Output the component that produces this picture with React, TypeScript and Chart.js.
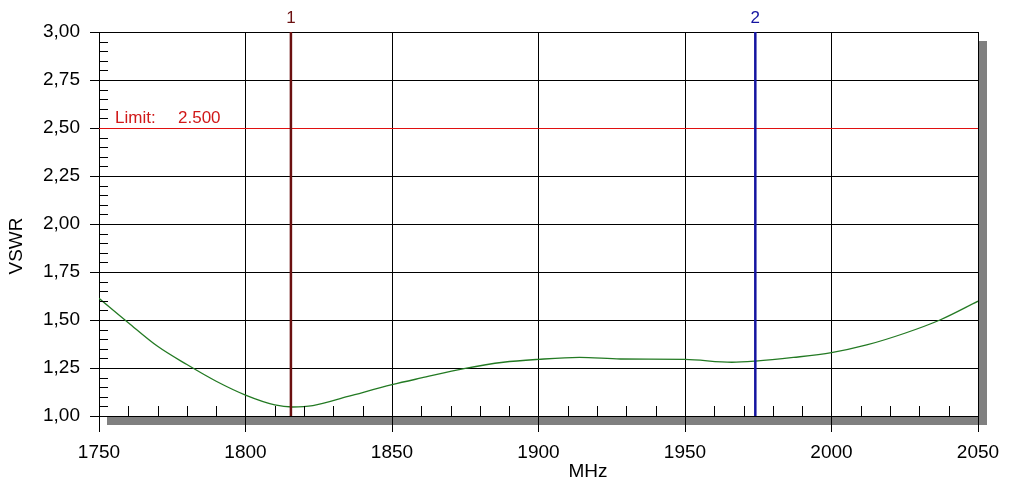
import React, { useEffect, useRef } from "react";
import { Chart, registerables } from "chart.js";

Chart.register(...registerables);

// Measured VSWR trace
const freqMHz = [1750, 1760, 1770, 1780, 1790, 1800, 1810, 1816, 1823, 1835, 1850, 1860, 1875, 1888, 1900, 1914, 1928, 1950, 1966, 1974, 1987, 2000, 2012, 2025, 2037, 2050];
const vswr = [1.613, 1.486, 1.363, 1.268, 1.181, 1.109, 1.058, 1.047, 1.054, 1.102, 1.163, 1.198, 1.248, 1.28, 1.295, 1.305, 1.297, 1.295, 1.28, 1.286, 1.305, 1.33, 1.37, 1.431, 1.5, 1.598];

// Limit line
const limitValue = 2.5;

// Markers
const markerLabels = ["1", "2"];
const markerFreqs = [1815.5, 1974];
const markerColors = ["#6b1010", "#1414a0"];

// Axis ranges / ticks
const xMin = 1750;
const xMax = 2050;
const xMajorStep = 50;
const xMinorStep = 10;
const yMin = 1;
const yMax = 3;
const yMajorStep = 0.25;
const yMinorStep = 0.05;

const xTitle = "MHz";
const yTitle = "VSWR";

const FONT = 'Arial, "Liberation Sans", sans-serif';

const decorPlugin = {
  id: "decor",
  beforeDraw(chart: any) {
    const { ctx, chartArea } = chart;
    const { left, right, top, bottom } = chartArea;
    ctx.save();
    ctx.fillStyle = "#808080";
    ctx.fillRect(left + 8, bottom + 1, right - left, 8);
    ctx.fillRect(right + 1, top + 9, 8, bottom - top);
    ctx.restore();
  },
  beforeDatasetsDraw(chart: any) {
    const { ctx, chartArea, scales } = chart;
    const { left, right } = chartArea;
    const ly = Math.round(scales.y.getPixelForValue(limitValue)) + 0.5;
    ctx.save();
    ctx.strokeStyle = "#e01010";
    ctx.lineWidth = 1;
    ctx.beginPath();
    ctx.moveTo(left, ly);
    ctx.lineTo(right, ly);
    ctx.stroke();
    ctx.restore();
  },
  afterDraw(chart: any) {
    const { ctx, chartArea, scales } = chart;
    const { left, top, bottom } = chartArea;
    const xs = scales.x;
    const ys = scales.y;
    ctx.save();
    // minor ticks
    ctx.strokeStyle = "#000";
    ctx.lineWidth = 1;
    ctx.beginPath();
    const nY = Math.round((yMax - yMin) / yMinorStep);
    const perY = Math.round(yMajorStep / yMinorStep);
    for (let i = 1; i < nY; i++) {
      if (i % perY === 0) continue;
      const py = Math.round(ys.getPixelForValue(yMin + i * yMinorStep)) + 0.5;
      ctx.moveTo(left, py);
      ctx.lineTo(left + 9, py);
    }
    const nX = Math.round((xMax - xMin) / xMinorStep);
    const perX = Math.round(xMajorStep / xMinorStep);
    for (let i = 1; i < nX; i++) {
      if (i % perX === 0) continue;
      const px = Math.round(xs.getPixelForValue(xMin + i * xMinorStep)) + 0.5;
      ctx.moveTo(px, bottom);
      ctx.lineTo(px, bottom - 10);
    }
    ctx.stroke();

    // limit label
    const ly = ys.getPixelForValue(limitValue);
    ctx.fillStyle = "#d01818";
    ctx.font = `17px ${FONT}`;
    ctx.textAlign = "left";
    ctx.textBaseline = "alphabetic";
    ctx.fillText("Limit:", left + 16, ly - 5);
    ctx.fillText(limitValue.toFixed(3), left + 79, ly - 5);

    // marker labels
    ctx.textAlign = "center";
    markerLabels.forEach((lab, i) => {
      ctx.fillStyle = markerColors[i];
      ctx.fillText(lab, xs.getPixelForValue(markerFreqs[i]), top - 9);
    });

    // axis titles
    ctx.fillStyle = "#000";
    ctx.font = `19px ${FONT}`;
    ctx.textAlign = "center";
    ctx.textBaseline = "middle";
    ctx.fillText(xTitle, 588, 472);
    ctx.translate(17, 246);
    ctx.rotate(-Math.PI / 2);
    ctx.fillText(yTitle, 0, 0);
    ctx.restore();
  },
};

export default function App() {
  const ref = useRef<HTMLCanvasElement | null>(null);
  useEffect(() => {
    if (!ref.current) return;
    const datasets: any[] = [
      {
        label: "VSWR",
        data: freqMHz.map((f, i) => ({ x: f, y: vswr[i] })),
        borderColor: "#237a23",
        borderWidth: 1.3,
        pointRadius: 0,
        cubicInterpolationMode: "monotone",
        fill: false,
        order: 2,
      },
      ...markerFreqs.map((f, i) => ({
        label: "M" + markerLabels[i],
        data: [
          { x: f, y: yMin },
          { x: f, y: yMax },
        ],
        borderColor: markerColors[i],
        borderWidth: 2.5,
        pointRadius: 0,
        fill: false,
        order: 1,
      })),
    ];
    const chart = new Chart(ref.current, {
      type: "line",
      data: { datasets },
      options: {
        responsive: false,
        animation: false,
        layout: { padding: { left: 0, top: 32, right: 42, bottom: 0 } },
        plugins: { legend: { display: false }, tooltip: { enabled: false }, title: { display: false } },
        scales: {
          x: {
            type: "linear",
            min: xMin,
            max: xMax,
            afterFit: (s: any) => {
              s.height = 84;
            },
            ticks: {
              stepSize: xMajorStep,
              color: "#000",
              font: { family: FONT, size: 19 },
              padding: 9,
              maxRotation: 0,
              autoSkip: false,
              callback: (v: any) => String(Math.round(Number(v))),
            },
            grid: { color: "#000", lineWidth: 1, tickLength: 16, tickColor: "#000" },
            border: { display: true, color: "#000", width: 1 },
          },
          y: {
            type: "linear",
            min: yMin,
            max: yMax,
            afterFit: (s: any) => {
              s.width = 99;
            },
            ticks: {
              stepSize: yMajorStep,
              color: "#000",
              font: { family: FONT, size: 19 },
              padding: 10,
              callback: (v: any) => Number(v).toFixed(2).replace(".", ","),
            },
            grid: { color: "#000", lineWidth: 1, tickLength: 9, tickColor: "#000" },
            border: { display: true, color: "#000", width: 1 },
          },
        },
      },
      plugins: [decorPlugin],
    });
    return () => chart.destroy();
  }, []);
  return (
    <div style={{ position: "absolute", left: 0, top: 0, width: 1020, height: 500, background: "#fff" }}>
      <canvas ref={ref} width={1020} height={500} />
    </div>
  );
}
